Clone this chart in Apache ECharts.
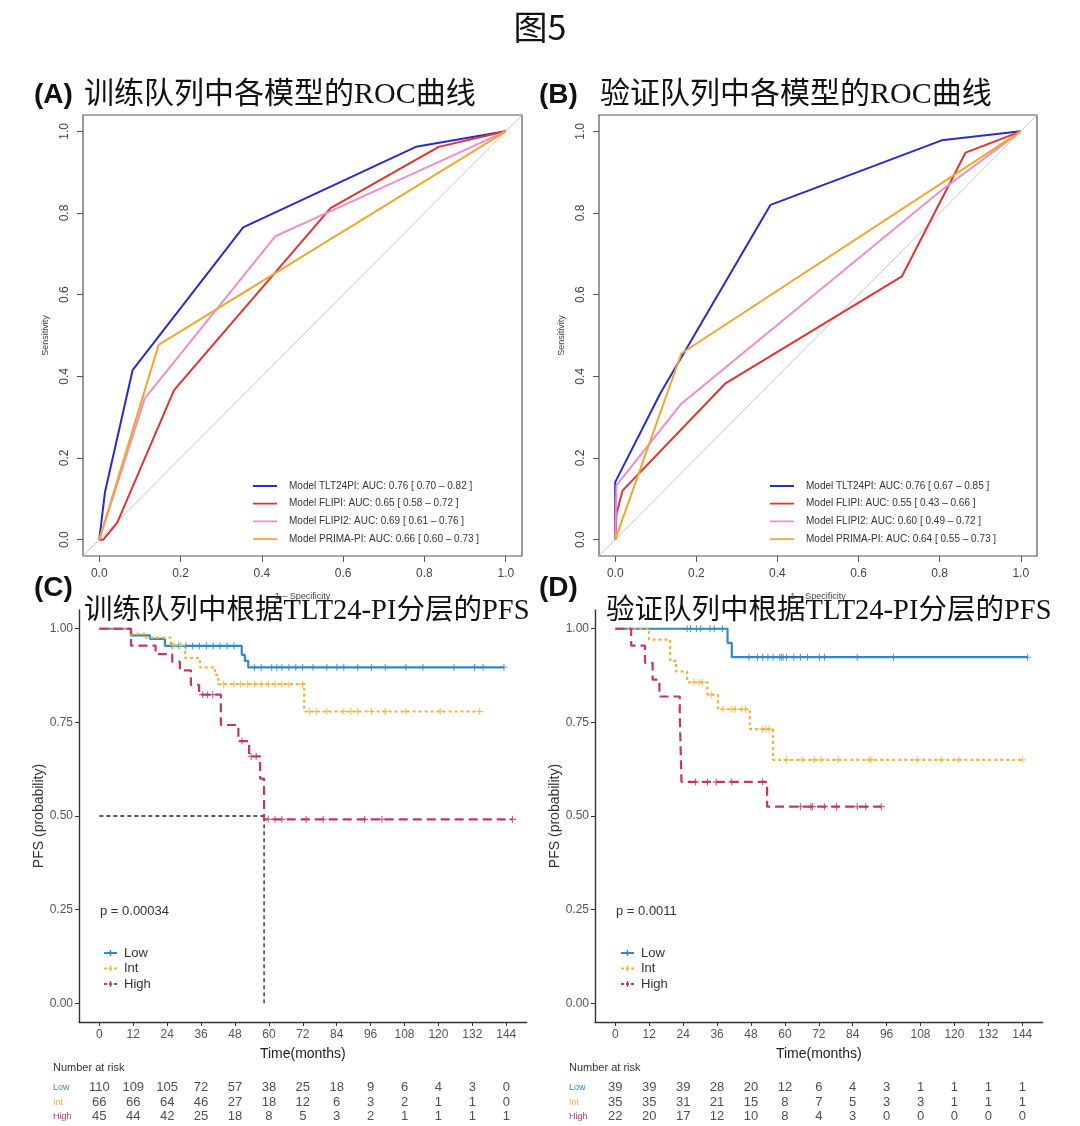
<!DOCTYPE html>
<html><head><meta charset="utf-8">
<script src="https://cdn.jsdelivr.net/npm/echarts@6/dist/echarts.min.js"></script>
<style>html,body{margin:0;padding:0;background:#fff}#c{width:1080px;height:1126px}</style>
</head><body><div id="c"></div>
<script>
// ---------- ROC data (x = 1 - specificity, y = sensitivity) ----------
const rocTicks = [0, 0.2, 0.4, 0.6, 0.8, 1.0];
const rocDiagonal = [[-0.04, -0.04], [1.04, 1.04]];
const rocA_TLT = [[0,0],[0.014,0.116],[0.082,0.415],[0.354,0.765],[0.779,0.962],[1,1]];
const rocA_FLIPI = [[0,0],[0.01,0],[0.044,0.041],[0.184,0.366],[0.569,0.812],[0.835,0.962],[1,1]];
const rocA_FLIPI2 = [[0,0],[0.112,0.346],[0.433,0.743],[0.568,0.804],[1,1]];
const rocA_PRIMA = [[0,0],[0.146,0.477],[1,1]];
const rocB_TLT = [[0,0],[0,0.141],[0.111,0.358],[0.383,0.82],[0.805,0.978],[1,1]];
const rocB_FLIPI = [[0,0],[0.003,0.063],[0.018,0.12],[0.272,0.383],[0.707,0.645],[0.864,0.948],[1,1]];
const rocB_FLIPI2 = [[0,0],[0.003,0.133],[0.163,0.333],[0.806,0.857],[1,1]];
const rocB_PRIMA = [[0,0],[0.163,0.456],[1,1]];
const rocA_names = ['Model TLT24PI: AUC: 0.76 [ 0.70 – 0.82 ]','Model FLIPI: AUC: 0.65 [ 0.58 – 0.72 ]','Model FLIPI2: AUC: 0.69 [ 0.61 – 0.76 ]','Model PRIMA-PI: AUC: 0.66 [ 0.60 – 0.73 ]'];
const rocB_names = ['Model TLT24PI: AUC: 0.76 [ 0.67 – 0.85 ]','Model FLIPI: AUC: 0.55 [ 0.43 – 0.66 ]','Model FLIPI2: AUC: 0.60 [ 0.49 – 0.72 ]','Model PRIMA-PI: AUC: 0.64 [ 0.55 – 0.73 ]'];

// ---------- KM data (time in months, survival) ----------
const kmTicksX = [0,12,24,36,48,60,72,84,96,108,120,132,144];
const kmTicksY = [0,0.25,0.5,0.75,1];
const groups = ['Low','Int','High'];
const cLow = [[0,1],[11.2,0.982],[17.9,0.973],[23.2,0.954],[50.4,0.930],[51.5,0.914],[52.7,0.897],[143.2,0.897]];
const cInt = [[0,1],[11,0.986],[16.4,0.976],[25.3,0.955],[30.3,0.922],[35.6,0.897],[40.9,0.877],[42.1,0.852],[72.5,0.779],[134.6,0.779]];
const cHigh = [[0,1],[11.2,0.955],[19.9,0.932],[25.8,0.912],[28.5,0.889],[32.4,0.850],[35.3,0.824],[43.0,0.743],[49.2,0.700],[53.0,0.659],[56.9,0.600],[58.3,0.491],[146.2,0.491]];
const cLowCens = [25.7,28.1,30.6,33,35.4,37.9,40.3,42.7,45.2,47.6,54.9,57.3,61,62.8,64.6,67.1,69.5,71.9,75.6,80.5,84.1,86.5,91.4,96.3,101.2,108.5,114.5,125.5,132.8,135.8,143.2];
const cIntCens = [26.5,28.8,44,47.6,50,52.5,54.9,57.3,59.8,62.2,64.6,67.1,71.9,74.4,76.8,80.5,86.5,89,91.4,96.3,101.2,108.5,120.6,134.6];
const cHighCens = [36.5,38.3,40.1,50.5,53.7,55.5,59.8,62.2,64.6,73.2,79.2,93.9,100,146.2];
const cMedian = 58.3;
const dLow = [[0,1],[39.7,0.962],[41.2,0.924],[145.9,0.924]];
const dInt = [[0,1],[11.9,0.971],[19.4,0.914],[21.5,0.886],[25.4,0.857],[32.6,0.824],[36.3,0.785],[47.6,0.732],[55.8,0.650],[144,0.650]];
const dHigh = [[0,1],[5.6,0.955],[10.5,0.909],[13.2,0.864],[15.6,0.819],[22.8,0.773],[23.4,0.591],[53.7,0.525],[94.1,0.525]];
const dLowCens = [25.4,26.6,28.7,30.2,33.5,35,37.9,47.3,50.3,52.1,54,55.8,58.2,58.8,59.4,60.6,63.1,65.5,68,72.2,74,85.6,98.4,145.9];
const dIntCens = [27.8,29.6,30.8,33.9,38.1,41.2,42.4,44.8,46,52.1,53.3,54.5,60.6,66.1,70.4,72.8,78.9,89.8,90.5,106.9,115.4,121.5,144];
const dHighCens = [28.4,32.6,35.7,41.2,52.1,65.5,69.2,69.8,74,78.3,85.6,88.6,94.1];

// ---------- Number at risk ----------
const cRiskLow = [110,109,105,72,57,38,25,18,9,6,4,3,0];
const cRiskInt = [66,66,64,46,27,18,12,6,3,2,1,1,0];
const cRiskHigh = [45,44,42,25,18,8,5,3,2,1,1,1,1];
const dRiskLow = [39,39,39,28,20,12,6,4,3,1,1,1,1];
const dRiskInt = [35,35,31,21,15,8,7,5,3,3,1,1,1];
const dRiskHigh = [22,20,17,12,10,8,4,3,0,0,0,0,0];

// ---------- styling ----------
const ROC_COL = ['#2a2ad0','#e23232','#f08ccc','#f2a62a'];
const KM_COL = {Low:'#2f8ac6', Int:'#f0b43a', High:'#c2346a'};
const KM_DASH = {Low:'solid', Int:[3,3], High:[9,5]};
const SANS = '"Liberation Sans", Arial, sans-serif';
const TITLE_FONT = '"Liberation Serif", "Noto Sans CJK SC", serif';
const PLUS = 'path://M4.2,0H5.8V10H4.2Z M0,4.2H10V5.8H0Z';
const LEG_LINE = 'path://M0,0H0.01V0.01H0Z M0,4.1H24V5.9H0Z M23.99,9.99H24V10H23.99Z';

function survAt(curve, t){ let s = 1; for (const p of curve) if (p[0] <= t) s = p[1]; return s; }

const grids = [
  {left:83, top:115, width:439, height:441, show:true, borderColor:'#555', borderWidth:1.2, backgroundColor:'transparent'},
  {left:599, top:115, width:438, height:441, show:true, borderColor:'#555', borderWidth:1.2, backgroundColor:'transparent'},
  {left:79, top:610, width:447.6, height:412},
  {left:595, top:610, width:447.6, height:412},
  {left:79, top:1080, width:447.6, height:44},
  {left:595, top:1080, width:447.6, height:44}
];
grids.forEach(g => { g.containLabel = false; g.outerBoundsMode = 'none'; });

function rocX(gi){
  return {type:'value', gridIndex:gi, min:-0.04, max:1.04, splitLine:{show:false}, axisLine:{show:false, onZero:false},
    axisTick:{show:true, customValues:rocTicks, length:6, lineStyle:{color:'#555', width:1}},
    axisLabel:{customValues:rocTicks, formatter:v=>Number(v).toFixed(1), margin:12, fontSize:12, color:'#444', fontFamily:SANS},
    name:'1 – Specificity', nameLocation:'middle', nameGap:36, nameTextStyle:{fontSize:9, color:'#444', fontFamily:SANS}};
}
function rocY(gi){
  return {type:'value', gridIndex:gi, min:-0.04, max:1.04, splitLine:{show:false}, axisLine:{show:false, onZero:false},
    axisTick:{show:true, customValues:rocTicks, length:6, lineStyle:{color:'#555', width:1}},
    axisLabel:{customValues:rocTicks, formatter:v=>Number(v).toFixed(1), rotate:90, margin:12, fontSize:12, color:'#444', fontFamily:SANS},
    name:'Sensitivity', nameLocation:'middle', nameGap:33, nameTextStyle:{fontSize:9, color:'#444', fontFamily:SANS}};
}
function kmX(gi){
  return {type:'value', gridIndex:gi, min:-7.2, max:151.2, splitLine:{show:false},
    axisLine:{show:true, onZero:false, lineStyle:{color:'#333', width:1.4}},
    axisTick:{show:true, customValues:kmTicksX, length:4, lineStyle:{color:'#333'}},
    axisLabel:{customValues:kmTicksX, margin:7, fontSize:12, color:'#555', fontFamily:SANS},
    name:'Time(months)', nameLocation:'middle', nameGap:25, nameTextStyle:{fontSize:14, color:'#222', fontFamily:SANS}};
}
function kmY(gi){
  return {type:'value', gridIndex:gi, min:-0.05, max:1.05, splitLine:{show:false},
    axisLine:{show:true, onZero:false, lineStyle:{color:'#333', width:1.4}},
    axisTick:{show:true, customValues:kmTicksY, length:4, lineStyle:{color:'#333'}},
    axisLabel:{customValues:kmTicksY, formatter:v=>Number(v).toFixed(2), margin:6, fontSize:12, color:'#555', fontFamily:SANS},
    name:'PFS (probability)', nameLocation:'middle', nameGap:32, nameTextStyle:{fontSize:14, color:'#333', fontFamily:SANS}};
}
const xAxes = [rocX(0), rocX(1), kmX(2), kmX(3),
  {type:'value', gridIndex:4, min:-7.2, max:151.2, show:false},
  {type:'value', gridIndex:5, min:-7.2, max:151.2, show:false}];
const yAxes = [rocY(0), rocY(1), kmY(2), kmY(3),
  {type:'category', gridIndex:4, data:['High','Int','Low'], show:false},
  {type:'category', gridIndex:5, data:['High','Int','Low'], show:false}];

const series = [];
// ROC
[[0, [rocA_TLT, rocA_FLIPI, rocA_FLIPI2, rocA_PRIMA], rocA_names],
 [1, [rocB_TLT, rocB_FLIPI, rocB_FLIPI2, rocB_PRIMA], rocB_names]].forEach(([gi, sets, names]) => {
  series.push({type:'line', xAxisIndex:gi, yAxisIndex:gi, data:rocDiagonal, symbol:'none', silent:true,
    lineStyle:{color:'#c8c8c8', width:1}, z:1});
  sets.slice().reverse().forEach((d, k) => {
    const i = sets.length - 1 - k;
    series.push({type:'line', name:names[i], xAxisIndex:gi, yAxisIndex:gi, data:d, symbol:'none', showSymbol:false,
      color:ROC_COL[i], lineStyle:{color:ROC_COL[i], width:2}, z:2 + i});
  });
});
// KM
function addKM(gi, curves, cens){
  groups.forEach(g => {
    series.push({type:'line', xAxisIndex:gi, yAxisIndex:gi, data:curves[g], step:'end', symbol:'none', silent:true,
      lineStyle:{color:KM_COL[g], width:2.2, type:KM_DASH[g]}, z:3});
    series.push({type:'scatter', xAxisIndex:gi, yAxisIndex:gi, data:cens[g].map(t => [t, survAt(curves[g], t)]),
      symbol:PLUS, symbolSize:7, silent:true, itemStyle:{color:KM_COL[g]}, z:4});
  });
}
addKM(2, {Low:cLow, Int:cInt, High:cHigh}, {Low:cLowCens, Int:cIntCens, High:cHighCens});
addKM(3, {Low:dLow, Int:dInt, High:dHigh}, {Low:dLowCens, Int:dIntCens, High:dHighCens});
// median lines (panel C)
series.push({type:'line', xAxisIndex:2, yAxisIndex:2, data:[[0,0.5],[cMedian,0.5]], symbol:'none', silent:true,
  lineStyle:{color:'#222', width:1.3, type:[4,3]}, z:2});
series.push({type:'line', xAxisIndex:2, yAxisIndex:2, data:[[cMedian,0],[cMedian,0.5]], symbol:'none', silent:true,
  lineStyle:{color:'#222', width:1.3, type:[4,3]}, z:2});
// risk tables
function addRisk(gi, rows){
  groups.forEach(g => {
    series.push({type:'scatter', xAxisIndex:gi, yAxisIndex:gi, symbolSize:1, silent:true,
      itemStyle:{color:'rgba(0,0,0,0)'},
      data:kmTicksX.map((t, i) => [t, g, rows[g][i]]),
      label:{show:true, position:'inside', formatter:p => String(p.value[2]), fontSize:13, color:'#222', fontFamily:SANS}});
  });
}
addRisk(4, {Low:cRiskLow, Int:cRiskInt, High:cRiskHigh});
addRisk(5, {Low:dRiskLow, Int:dRiskInt, High:dRiskHigh});

// ---------- texts ----------
const graphic = [];
function txt(x, y, text, font, fill, align){
  graphic.push({type:'text', x:x, y:y, silent:true, style:{text:text, font:font, fill:fill || '#111',
    textAlign:align || 'left', textVerticalAlign:'middle'}});
}
txt(540, 27, '图5', '34px "Noto Sans CJK SC", sans-serif', '#111', 'center');
txt(34, 95, '(A)', 'bold 28px ' + SANS);
txt(84, 95, '训练队列中各模型的ROC曲线', '30px ' + TITLE_FONT);
txt(539, 95, '(B)', 'bold 28px ' + SANS);
txt(600, 95, '验证队列中各模型的ROC曲线', '30px ' + TITLE_FONT);
txt(34, 588, '(C)', 'bold 28px ' + SANS);
txt(84, 612, '训练队列中根据TLT24-PI分层的PFS', '28.5px ' + TITLE_FONT);
txt(539, 588, '(D)', 'bold 28px ' + SANS);
txt(606, 612, '验证队列中根据TLT24-PI分层的PFS', '28.5px ' + TITLE_FONT);
txt(100, 911, 'p = 0.00034', '13px ' + SANS, '#333');
txt(616, 911, 'p = 0.0011', '13px ' + SANS, '#333');
// KM legends
function kmLegend(x0, y0){
  groups.forEach((g, i) => {
    const y = y0 + i * 15.5;
    graphic.push({type:'line', silent:true, shape:{x1:x0, y1:y, x2:x0 + 13, y2:y},
      style:{stroke:KM_COL[g], lineWidth:2, lineDash:g === 'Low' ? null : [3,2]}});
    graphic.push({type:'line', silent:true, shape:{x1:x0 + 6.5, y1:y - 3, x2:x0 + 6.5, y2:y + 3},
      style:{stroke:KM_COL[g], lineWidth:1.5}});
    txt(x0 + 20, y, g, '13px ' + SANS, '#333');
  });
}
kmLegend(104, 953);
kmLegend(621, 953);
// risk table labels
function riskLabels(x0){
  txt(x0, 1068, 'Number at risk', '11px ' + SANS, '#333');
  groups.forEach((g, i) => txt(x0, 1087.5 + i * 14.7, g, '9px ' + SANS, KM_COL[g]));
}
riskLabels(53);
riskLabels(569);

const legendCommon = {orient:'vertical', icon:LEG_LINE, itemWidth:24, itemHeight:10, itemGap:7.7, padding:0, selectedMode:false,
  textStyle:{fontSize:10, color:'#333', fontFamily:SANS, padding:[0,0,0,7]}};
const option = {
  animation:false,
  backgroundColor:'#fff',
  grid:grids, xAxis:xAxes, yAxis:yAxes, series:series, graphic:graphic,
  legend:[
    Object.assign({left:253, top:481, data:rocA_names}, legendCommon),
    Object.assign({left:770, top:481, data:rocB_names}, legendCommon)
  ]
};
const chart = echarts.init(document.getElementById('c'), null, {renderer:'canvas'});
chart.setOption(option);
</script></body></html>
